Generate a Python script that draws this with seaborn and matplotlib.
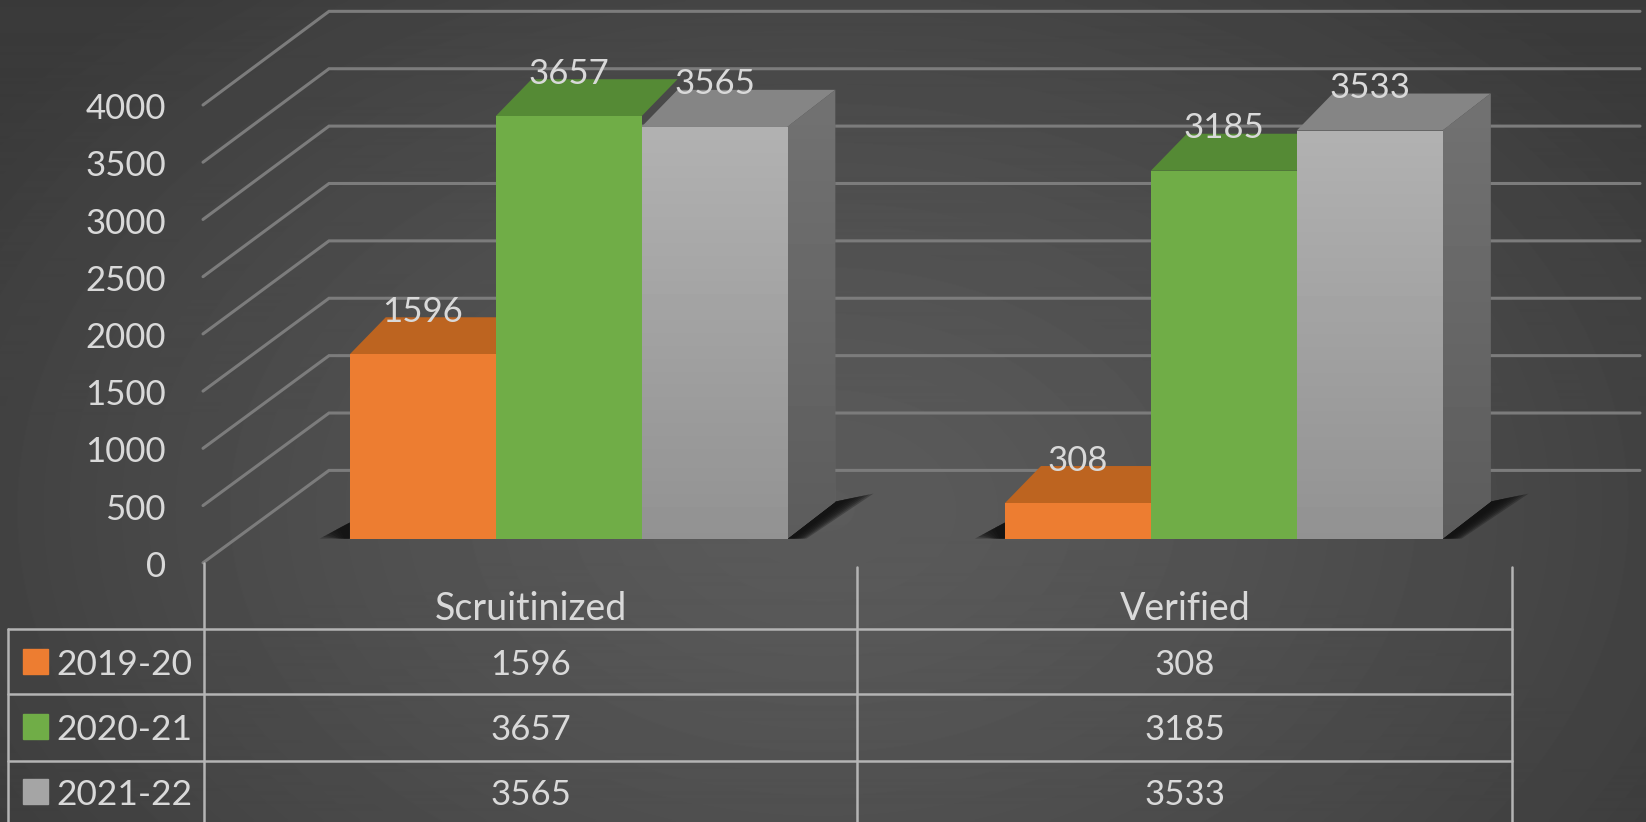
import numpy as np
import pandas as pd
import seaborn as sns
import matplotlib.pyplot as plt
from matplotlib.patches import Polygon, Rectangle

# data
stages = ["Scruitinized", "Verified"]
years = ["2019-20", "2020-21", "2021-22"]
counts_2019 = [1596, 308]
counts_2020 = [3657, 3185]
counts_2021 = [3565, 3533]
axis_ticks = [0, 500, 1000, 1500, 2000, 2500, 3000, 3500, 4000]

colors = ["#ed7d31", "#70ad47", "#a5a5a5"]
top_colors = ["#bd6420", "#558a35", "#858585"]
text_col = "#d9d9d9"

W, H = 1646, 822
# front plane of the bars: pixels per unit, per category and where they sit
PX_UNIT = 0.1155
PX_CAT = 655.2
CX0, BASE = 568.6, 538.6
DEPTH_L, DEPTH_R, DEPTH_Y = 36, 48, 37

sns.set_theme(style="dark")
plt.rcParams['font.family'] = ['Lato', 'DejaVu Sans']

df = pd.DataFrame({
    "stage": stages * 3,
    "year": np.repeat(years, 2),
    "count": counts_2019 + counts_2020 + counts_2021,
})

fig = plt.figure(figsize=(W / 100, H / 100), dpi=100)

# --- background layer, in picture pixels ---
deco = fig.add_axes([0, 0, 1, 1], zorder=0)
deco.set_xlim(0, W)
deco.set_ylim(H, 0)
deco.axis("off")

yy, xx = np.mgrid[0:H, 0:W]
r = np.sqrt(((xx - W * 0.5) / (W * 0.62)) ** 2 + ((yy - H * 0.62) / (H * 0.85)) ** 2)
bg = 0x5b - (0x5b - 0x3a) * np.clip(r, 0, 1) ** 1.3
deco.imshow(bg, cmap="gray", vmin=0, vmax=255, extent=(0, W, H, 0), aspect="auto", zorder=0)

# grid on the back wall and the slanted lines coming forward
for v in axis_ticks:
    y_back = (448 - v * 0.1093) * 1.05
    y_front = (536 - v * 0.109) * 1.05
    deco.plot([203, 329, 1640], [y_front, y_back, y_back], color="#7c7c7c", lw=2.2, solid_joinstyle="miter", zorder=1)
    deco.text(166, (537 - v * 0.109) * 1.05, str(v), color=text_col, fontsize=25, ha="right", va="center_baseline")

# table under the chart
line_kw = dict(color="#b4b4b4", lw=1.8, zorder=2)
row_lines = [629, 694, 761]
for y in row_lines:
    deco.plot([8, 1512], [y, y], **line_kw)
deco.plot([8, 8], [629, H], **line_kw)
for x, y0 in [(204, 563), (857, 567), (1512, 567)]:
    deco.plot([x, x], [y0, H], **line_kw)

col_x = [531, 1185]
row_y = [662, 727, 792]
for x, stage in zip(col_x, stages):
    deco.text(x, 605, stage, color=text_col, fontsize=27, ha="center", va="center_baseline")
rows = [counts_2019, counts_2020, counts_2021]
for y, year, col, vals in zip(row_y, years, colors, rows):
    deco.add_patch(Rectangle((23, y - 13), 25, 25, color=col, zorder=3))
    deco.text(56, y, year, color=text_col, fontsize=25.5, ha="left", va="center_baseline")
    for x, val in zip(col_x, vals):
        deco.text(x, y, str(val), color=text_col, fontsize=25, ha="center", va="center_baseline")

# --- bars, on their own transparent axes ---
ax = fig.add_axes([0, 0, 1, 1], zorder=1)
ax.patch.set_alpha(0)
sns.barplot(data=df, x="stage", y="count", hue="year", hue_order=years, palette=colors,
            width=0.668, gap=0, saturation=1, linewidth=0, legend=False, ax=ax)


def gradient(patch, x0, x1, y0, y1, top, bottom):
    img = np.linspace(top, bottom, 64).reshape(-1, 1)
    im = ax.imshow(img, cmap="gray", vmin=0, vmax=255, extent=(x0, x1, y0, y1), aspect="auto", zorder=patch.get_zorder() + 0.1)
    im.set_clip_path(patch)


def soft_shadow(x0, far_x, far_y, back_x, back_y):
    # stacked see-through polygons, darkest next to the bar
    for f in np.linspace(0.35, 1, 7):
        ax.add_patch(Polygon([(x0, 0), (back_x, back_y), (back_x + (far_x - back_x) * f, back_y + (far_y - back_y) * f),
                              (x0 + (far_x - back_x) * f * 0.5, 0)],
                             color="#101010", alpha=0.3, lw=0, zorder=2))


dx_l = DEPTH_L / PX_CAT
dx_r = DEPTH_R / PX_CAT
dy = DEPTH_Y / PX_UNIT
for i, (cont, top_col) in enumerate(zip(ax.containers, top_colors)):
    for bar in cont:
        bar.set_zorder(4)
        x0, w, h = bar.get_x(), bar.get_width(), bar.get_height()
        end = dx_r if i == 2 else dx_l
        ax.add_patch(Polygon([(x0, h), (x0 + w, h), (x0 + w + end, h + dy), (x0 + dx_l, h + dy)],
                             color=top_col, lw=0, zorder=3 + i * 0.1))
        if i == 0:
            # shadow left of the first bar
            soft_shadow(x0, x0 - 30 / PX_CAT, 0, x0, 16 / PX_UNIT)
        if i == 2:
            gradient(bar, x0, x0 + w, 0, h, 0xb1, 0x92)
            side = Polygon([(x0 + w, 0), (x0 + w, h), (x0 + w + dx_r, h + dy), (x0 + w + dx_r, dy)], color="#666666", lw=0, zorder=3.5)
            ax.add_patch(side)
            gradient(side, x0 + w, x0 + w + dx_r, 0, h + dy, 0x72, 0x5c)
            # shadow on the floor to the right
            soft_shadow(x0 + w, x0 + w + 86 / PX_CAT, 45 / PX_UNIT, x0 + w + dx_r, dy)
    ax.bar_label(cont, labels=[str(int(b.get_height())) for b in cont], padding=19, color=text_col, fontsize=25, zorder=6)

ax.set_xlim(-CX0 / PX_CAT, (W - CX0) / PX_CAT)
ax.set_ylim(-(H - BASE) / PX_UNIT, BASE / PX_UNIT)
ax.axis("off")

plt.savefig("out.png", dpi=100)
